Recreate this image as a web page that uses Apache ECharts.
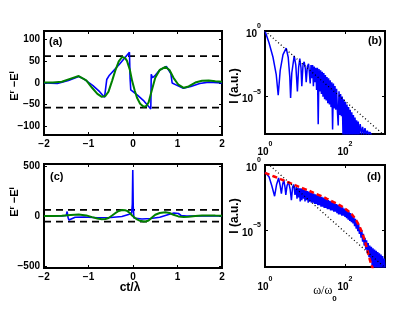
<!DOCTYPE html>
<html><head><meta charset="utf-8">
<script src="https://cdn.jsdelivr.net/npm/echarts@6/dist/echarts.min.js"></script>
<style>html,body{margin:0;padding:0;background:#fff}#c{width:415px;height:313px}</style>
</head><body><div id="c"></div>
<script>
// ---------- data ----------
const timeRange = [-2, 2];
const timeTicks = [-2, -1, 0, 1, 2];
const fieldTicksA = [-100, -50, 0, 50, 100];
const fieldRangeA = [-120, 120];
const fieldTicksC = [-500, 0, 500];
const fieldRangeC = [-520, 520];
const thresholdLevels = [62, -57];
// spectra in log10 units
const freqRange = [0, 3];
const freqTicks = [0, 2];
const intensityRange = [-7.85, 0];
const intensityTicks = [0, -5];

// incident (green) field, panels a and c
const greenT = [-2, -1.8, -1.6, -1.4, -1.22, -1.05, -0.92, -0.8, -0.7, -0.62, -0.55, -0.47, -0.4, -0.32, -0.245, -0.18, -0.135, -0.07, -0.02, 0.04, 0.09, 0.16, 0.24, 0.3, 0.35, 0.42, 0.5, 0.6, 0.73, 0.82, 0.91, 1.02, 1.14, 1.25, 1.4, 1.55, 1.7, 1.85, 2];
const greenE = [1, 1, 3, 10, 16, 6, -11, -25, -32, -30, -20, 5, 28, 50, 60, 58, 51, 30, 5, -18, -34, -48, -55, -53, -45, -18, 12, 30, 37, 30, 12, -4, -11, -8, 1, 5, 6, 4, 3];

// reflected (blue) field, panel a
const blueAT = [-2, -1.7, -1.45, -1.22, -1.1, -0.9, -0.75, -0.64, -0.62, -0.59, -0.56, -0.53, -0.3, -0.08, -0.065, -0.05, -0.03, 0.1, 0.25, 0.4, 0.41, 0.44, 0.5, 0.6, 0.75, 0.85, 0.88, 1.0, 1.13, 1.3, 1.5, 1.7, 2.0];
const blueAE = [0, -1, 6, 15, 9, -6, -20, -33, -36, 8, 5, 18, 44, 71, 10, -16, -12, -28, -42, -60, 20, 12, 18, 30, 38, 22, 0, -6, -12, -8, -1, 2, 0];

// reflected (blue) field, panel c
const blueCT = [-2, -1.6, -1.5, -1.48, -1.46, -1.44, -1.4, -1.3, -1.1, -0.8, -0.5, -0.25, -0.1, -0.03, -0.015, -0.005, 0.005, 0.02, 0.05, 0.2, 0.4, 0.6, 0.8, 0.92, 1.02, 1.08, 1.2, 1.5, 2];
const blueCE = [0, 0, 5, 45, -15, -40, -30, -12, -10, -18, -15, -5, 15, 30, 120, 460, 100, -20, -28, -30, -25, -12, 15, 30, 25, 5, 0, 0, 0];

// spectrum b: [log10 w, log10 I]
const spectrumB = [[0,0],[0.1,-0.9],[0.2,-2.0],[0.28,-3.3],[0.33,-4.9],[0.38,-3.0],[0.45,-1.8],[0.53,-1.3],[0.58,-2.0],[0.62,-3.5],[0.64,-5.1],[0.67,-3.2],[0.73,-1.9],[0.77,-2.6],[0.81,-4.6],[0.84,-2.8],[0.87,-2.1],[0.90,-2.8],[0.92,-4.2],[0.95,-2.6],[0.98,-2.35],[1.01,-2.9],[1.03,-3.9],[1.06,-2.7],[1.09,-2.5],[1.11,-3.2],[1.13,-4.0],[1.15,-2.6],
[1.17,-3.6],[1.19,-2.6],[1.21,-4.2],[1.23,-2.7],[1.25,-3.9],[1.27,-2.8],[1.29,-4.5],[1.31,-2.8],[1.33,-7.1],[1.35,-2.9],[1.37,-4.6],[1.39,-3.0],[1.41,-4.8],[1.43,-3.1],[1.45,-5.0],[1.47,-3.2],[1.49,-5.2],[1.51,-3.35],[1.53,-5.3],[1.55,-3.5],[1.57,-5.5],[1.59,-3.6],[1.61,-5.6],[1.63,-3.75],[1.65,-5.8],[1.67,-3.9],[1.69,-7.5],[1.71,-4.0],[1.73,-5.9],[1.75,-4.2],[1.77,-6.0],[1.79,-4.4],[1.81,-6.1],[1.83,-7.2],[1.85,-4.6],[1.87,-6.4],[1.89,-4.8],[1.91,-6.5],[1.93,-5.0],[1.95,-7.9],[1.97,-5.2],[1.99,-7.9],[2.01,-5.4],[2.03,-7.9],[2.05,-5.6],[2.07,-7.9],[2.09,-5.8],[2.11,-7.9],[2.13,-6.0],[2.15,-7.9],[2.17,-6.2],[2.19,-7.9],[2.21,-6.4],[2.23,-7.9],[2.25,-6.6],[2.27,-7.9],[2.29,-6.8],[2.31,-7.9],[2.33,-6.9],[2.35,-7.9],[2.38,-7.1],[2.41,-7.9],[2.44,-7.3],[2.47,-7.9],[2.50,-7.4],[2.53,-7.9],[2.56,-7.6],[2.59,-7.9],[2.62,-7.7],[2.66,-7.9]];
const powerLawB = [[0,0],[3,-8]];

// spectrum d
const spectrumD = [[0,-0.55],[0.05,-0.65],[0.1,-0.9],[0.17,-1.6],[0.24,-2.4],[0.29,-1.5],[0.34,-1.0],[0.38,-1.6],[0.41,-2.2],[0.44,-1.5],[0.47,-1.15],[0.50,-1.7],[0.52,-2.3],[0.55,-1.6],[0.59,-1.3],[0.63,-1.9],[0.66,-2.7],[0.69,-1.7],[0.72,-1.5],[0.75,-2.3],
[0.78,-1.7],[0.80,-2.6],[0.82,-1.75],[0.84,-2.5],[0.86,-1.8],[0.88,-2.8],[0.90,-1.8],[0.92,-2.7],[0.94,-1.85],[0.96,-2.6],[0.98,-1.9],[1.00,-2.8],[1.02,-1.95],[1.04,-2.7],[1.06,-2.0],[1.08,-2.9],[1.10,-2.05],[1.12,-2.8],[1.14,-2.1],[1.16,-2.9],[1.18,-2.15],[1.20,-2.9],[1.22,-2.2],[1.24,-3.0],[1.26,-2.25],[1.28,-3.0],[1.30,-2.3],[1.32,-3.1],[1.34,-2.35],[1.36,-3.1],[1.38,-2.4],[1.40,-3.2],[1.42,-2.45],[1.44,-3.2],[1.46,-2.5],[1.48,-3.3],[1.50,-2.55],[1.52,-3.3],[1.54,-2.6],[1.56,-3.4],[1.58,-2.7],[1.60,-3.4],[1.62,-2.75],[1.64,-3.5],[1.66,-2.8],[1.68,-3.5],[1.70,-2.85],[1.72,-3.6],[1.74,-2.9],[1.76,-3.6],[1.78,-3.0],[1.80,-3.7],[1.82,-3.05],[1.84,-3.8],[1.86,-3.1],[1.88,-3.8],[1.90,-3.2],[1.92,-3.9],[1.94,-3.25],[1.96,-3.9],[1.98,-3.35],[2.00,-4.0],[2.02,-3.4],[2.04,-4.1],[2.06,-3.5],[2.08,-4.2],[2.10,-3.6],[2.12,-4.3],[2.14,-3.7],[2.16,-4.4],[2.18,-3.85],[2.20,-4.5],[2.22,-4.0],[2.24,-4.7],[2.26,-4.15],[2.28,-4.9],[2.30,-4.35],[2.32,-5.1],[2.34,-4.55],[2.36,-5.3],[2.38,-4.8],[2.40,-5.6],[2.42,-5.0],[2.44,-5.9],[2.46,-5.3],[2.48,-6.2],[2.50,-5.6],[2.52,-6.5],[2.54,-5.8],[2.56,-6.8],[2.58,-6.0],[2.60,-7.1],[2.62,-6.2],[2.64,-7.4],[2.66,-6.3],[2.68,-7.9],[2.70,-6.4],[2.72,-7.9],[2.74,-6.5],[2.76,-7.9],[2.78,-6.6],[2.80,-7.9],[2.82,-6.7],[2.84,-7.9],[2.86,-6.8],[2.88,-7.9],[2.90,-6.9],[2.92,-7.9],[2.94,-7.0],[2.96,-7.9],[2.98,-7.2],[3.0,-7.9]];
const fitD = [[0,-0.6],[0.4,-1.1],[0.75,-1.55],[1.15,-2.05],[1.55,-2.6],[1.95,-3.25],[2.2,-3.9],[2.38,-4.85],[2.5,-5.9],[2.58,-6.8],[2.65,-7.6],[2.7,-8.0]];
const powerLawD = [[0,0.3],[3,-7.9]];

// ---------- chart ----------
const zip = (xs, ys) => xs.map((x, i) => [x, ys[i]]);
const minus = v => String(v).replace('-', '\u2212');
const FONT = 'Liberation Sans';
const tickLabel = {fontFamily: FONT, fontWeight: 'bold', fontSize: 10, color: '#000'};
const powRich = {
  b: {fontFamily: FONT, fontWeight: 'bold', fontSize: 10, color: '#000', lineHeight: 16, verticalAlign: 'bottom'},
  s: {fontFamily: FONT, fontWeight: 'bold', fontSize: 7, color: '#000', lineHeight: 16, verticalAlign: 'top'}
};
const powFmt = v => '{b|10}{s|' + minus(v) + '}';
const tick = (vals) => ({show: true, inside: true, length: 3, customValues: vals, lineStyle: {color: '#000', width: 1}});

const grids = [
  {left: 44, top: 31, width: 178, height: 104},
  {left: 265, top: 31, width: 120, height: 103},
  {left: 44, top: 164, width: 178, height: 104},
  {left: 265, top: 165, width: 120, height: 102}
].map(g => Object.assign(g, {show: true, borderColor: '#000', borderWidth: 2, backgroundColor: '#fff'}));

const xAxes = [], yAxes = [];
function addAxes(gi, xr, xt, xfmt, yr, yt, yfmt, isPow, powMargin) {
  const base = {type: 'value', gridIndex: gi, splitLine: {show: false}, axisLine: {show: false, onZero: false}};
  xAxes.push(Object.assign({}, base, {position: 'bottom', min: xr[0], max: xr[1],
    axisTick: tick(xt), axisLabel: Object.assign({}, tickLabel, {customValues: xt, formatter: xfmt, margin: isPow ? powMargin : 4, rich: powRich})}));
  xAxes.push(Object.assign({}, base, {position: 'top', min: xr[0], max: xr[1], axisTick: tick(xt), axisLabel: {show: false}}));
  yAxes.push(Object.assign({}, base, {position: 'left', min: yr[0], max: yr[1],
    axisTick: tick(yt), axisLabel: Object.assign({}, tickLabel, {customValues: yt, formatter: yfmt, margin: 4, rich: powRich})}));
  yAxes.push(Object.assign({}, base, {position: 'right', min: yr[0], max: yr[1], axisTick: tick(yt), axisLabel: {show: false}}));
}
addAxes(0, timeRange, timeTicks, minus, fieldRangeA, fieldTicksA, minus, false);
addAxes(1, freqRange, freqTicks, powFmt, intensityRange, intensityTicks, powFmt, true, 7);
addAxes(2, timeRange, timeTicks, minus, fieldRangeC, fieldTicksC, minus, false);
addAxes(3, freqRange, freqTicks, powFmt, intensityRange, intensityTicks, powFmt, true, 9);

const line = (gi, data, color, width, type, z) => ({
  type: 'line', xAxisIndex: 2 * gi, yAxisIndex: 2 * gi, data, showSymbol: false, symbol: 'none',
  lineStyle: {color, width, type: type || 'solid'}, z: z || 2, animation: false, clip: true
});
const hline = (gi, level) => line(gi, [[timeRange[0], level], [timeRange[1], level]], '#000', 1.8, [7, 5], 1);

const series = [
  hline(0, thresholdLevels[0]), hline(0, thresholdLevels[1]),
  line(0, zip(blueAT, blueAE), '#0000ff', 1.6),
  line(0, zip(greenT, greenE), '#008000', 2, null, 3),
  line(1, spectrumB, '#0000ff', 1.5),
  line(1, powerLawB, '#000', 1.3, [1, 2.5], 4),
  hline(2, thresholdLevels[0]), hline(2, thresholdLevels[1]),
  line(2, zip(blueCT, blueCE), '#0000ff', 1.6),
  line(2, zip(greenT, greenE), '#008000', 2, null, 3),
  line(3, spectrumD, '#0000ff', 1.5),
  Object.assign(line(3, fitD, '#ff0000', 2.5, [5, 3], 3), {smooth: 0.3}),
  line(3, powerLawD, '#000', 1.3, [1, 2.5], 4)
];

const txt = (x, y, text, extra) => ({type: 'text', x, y, z: 10, style: Object.assign({text, fill: '#000',
  font: 'bold 11px "Liberation Sans"', align: 'left', verticalAlign: 'middle'}, extra || {})});
const yRich = {
  n: {fontFamily: FONT, fontWeight: 'bold', fontSize: 11, fill: '#000', lineHeight: 13, verticalAlign: 'bottom'},
  s: {fontFamily: FONT, fontWeight: 'bold', fontSize: 8, fill: '#000', lineHeight: 13, verticalAlign: 'top'}
};
const wRich = {
  w: {fontFamily: 'Liberation Serif', fontSize: 12, fill: '#000', lineHeight: 14, verticalAlign: 'top'},
  s: {fontFamily: FONT, fontWeight: 'bold', fontSize: 8, fill: '#000', lineHeight: 18, verticalAlign: 'bottom'}
};
const graphic = [
  txt(49, 42, '(a)'), txt(382, 41, '(b)', {align: 'right'}),
  txt(50, 177, '(c)'), txt(381, 177, '(d)', {align: 'right'}),
  Object.assign(txt(14, 86, '{n|E}{s|r}{n| \u2212E}{s|i}', {align: 'center', rich: yRich}), {rotation: Math.PI / 2}),
  Object.assign(txt(14, 202, '{n|E}{s|r}{n| \u2212E}{s|i}', {align: 'center', rich: yRich}), {rotation: Math.PI / 2}),
  Object.assign(txt(235, 86, 'I (a.u.)', {align: 'center', font: 'bold 12px "Liberation Sans"'}), {rotation: Math.PI / 2}),
  Object.assign(txt(235, 216, 'I (a.u.)', {align: 'center', font: 'bold 12px "Liberation Sans"'}), {rotation: Math.PI / 2}),
  txt(130, 288, 'ct/\u03bb', {align: 'center', font: 'bold 12px "Liberation Sans"'}),
  txt(325, 294, '{w|\u03c9/\u03c9}{s|0}', {align: 'center', rich: wRich})
];

const chart = echarts.init(document.getElementById('c'), null, {renderer: 'canvas'});
chart.setOption({animation: false, backgroundColor: '#fff', grid: grids, xAxis: xAxes, yAxis: yAxes, series, graphic});
</script></body></html>
